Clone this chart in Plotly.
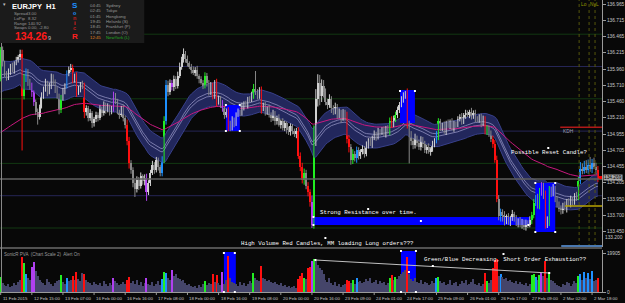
import plotly.graph_objects as go

# ---------------- data ----------------
open_first = 135.80
close = [
    136.25, 136.05, 135.90, 135.82, 135.92, 136.00, 135.95, 136.05, 136.10, 136.14,
    136.20, 135.55, 135.80, 135.92, 135.75, 135.70, 135.60, 135.45, 135.30, 135.22,
    135.38, 135.55, 135.65, 135.75, 135.60, 135.70, 135.85, 135.75, 135.65, 135.55,
    135.32, 135.50, 135.62, 135.70, 135.88, 135.95, 135.98, 135.80, 135.85, 135.60,
    135.65, 135.72, 135.68, 135.30, 135.35, 135.20, 135.28, 135.12, 135.18, 135.25,
    135.20, 135.35, 135.28, 135.40, 135.32, 135.38, 135.30, 135.35, 135.55, 135.45,
    135.30, 135.25, 135.35, 135.20, 135.10, 134.85, 134.50, 134.40, 134.20, 134.10,
    134.25, 134.15, 134.30, 134.22, 134.28, 134.05, 134.20, 134.35, 134.48, 134.40,
    134.55, 134.45, 134.35, 134.55, 135.15, 135.72, 135.60, 135.75, 135.68, 135.80,
    135.70, 135.85, 136.00, 136.10, 136.20, 136.12, 136.05, 136.00, 135.95, 135.90,
    135.95, 135.85, 135.80, 135.75, 135.70, 135.85, 135.75, 135.60, 135.70, 135.55,
    135.75, 135.45, 135.50, 135.42, 135.35, 135.25, 135.30, 135.12, 135.05, 135.18,
    135.12, 135.25, 135.30, 135.28, 135.38, 135.42, 135.40, 135.50, 135.48, 135.55,
    135.65, 135.60, 135.55, 135.62, 135.35, 135.40, 135.30, 135.35, 135.25, 135.20,
    135.28, 135.15, 135.20, 135.10, 135.15, 135.05, 135.12, 135.02, 134.98, 135.08,
    135.00, 134.95, 135.00, 134.62, 134.45, 134.25, 134.35, 134.15, 134.05, 133.90,
    133.55, 134.97, 135.50, 135.75, 135.55, 135.70, 135.60, 135.45, 135.40, 135.50,
    135.35, 135.30, 135.38, 135.25, 135.30, 135.20, 135.28, 135.22, 134.88, 134.75,
    134.55, 134.65, 134.58, 134.70, 134.62, 134.68, 134.72, 134.65, 134.78, 134.85,
    134.80, 134.90, 134.95, 134.90, 135.00, 134.98, 135.02, 134.95, 135.05, 135.00,
    135.15, 135.10, 135.20, 135.25, 135.32, 135.40, 135.48, 135.55, 135.58, 135.10,
    134.95, 134.85, 134.78, 134.90, 134.82, 134.75, 134.88, 134.80, 134.70, 134.75,
    134.68, 134.72, 134.80, 134.85, 134.92, 135.15, 135.05, 135.10, 135.00, 135.12,
    135.08, 135.15, 135.05, 135.12, 135.10, 135.18, 135.22, 135.15, 135.25, 135.28,
    135.25, 135.30, 135.22, 135.28, 135.20, 135.18, 135.22, 135.12, 135.18, 135.00,
    135.05, 134.95, 134.88, 134.80, 134.55, 133.95, 133.68, 133.75, 133.70, 133.62,
    133.68, 133.60, 133.65, 133.72, 133.66, 133.58, 133.62, 133.55, 133.60, 133.52,
    133.58, 133.55, 133.62, 133.70, 133.88, 133.95, 133.85, 134.05, 134.15, 134.02,
    133.55, 133.60, 134.10, 134.05, 134.12, 133.95, 133.88, 133.80, 133.78, 133.85,
    133.82, 133.92, 133.88, 133.95, 133.90, 134.00, 133.98, 134.22, 134.42, 134.38,
    134.45, 134.40, 134.48, 134.42, 134.50, 134.45, 134.40, 134.26,
]
wick_up = [  # pips above the body
    5, 6, 4, 3, 5, 4, 6, 3, 5, 4,   6, 6, 8, 5, 4, 6, 5, 3, 4, 5,
    3, 5, 4, 6, 3, 5, 4, 3, 5, 4,   3, 6, 5, 4, 6, 5, 6, 5, 4, 6,
    5, 4, 6, 7, 5, 4, 6, 3, 4, 5,   4, 5, 3, 6, 4, 5, 3, 4, 6, 4,
    5, 3, 4, 6, 4, 8, 6, 5, 4, 6,   5, 4, 6, 3, 5, 6, 4, 5, 6, 4,
    5, 4, 3, 6, 8, 7, 6, 5, 4, 6,   5, 7, 6, 5, 8, 4, 5, 3, 4, 5,
    4, 6, 3, 5, 4, 6, 5, 4, 6, 5,   4, 6, 5, 4, 6, 3, 5, 7, 4, 5,
    3, 4, 5, 3, 6, 4, 5, 3, 4, 6,   8, 28, 5, 6, 7, 4, 5, 3, 6, 4,
    5, 3, 4, 6, 3, 5, 4, 3, 5, 4,   3, 4, 5, 6, 5, 6, 7, 5, 6, 5,
    10, 12, 15, 13, 12, 10, 9, 6, 5, 7,   4, 5, 6, 4, 5, 3, 6, 5, 8, 6,
    5, 7, 4, 6, 5, 4, 6, 5, 6, 4,   5, 3, 6, 4, 5, 3, 4, 5, 3, 4,
    6, 8, 4, 5, 6, 5, 6, 5, 4, 8,   6, 5, 4, 6, 3, 5, 4, 3, 5, 4,
    6, 3, 5, 4, 8, 5, 4, 3, 5, 4,   6, 3, 5, 4, 3, 5, 4, 6, 3, 5,
    4, 3, 6, 4, 5, 3, 4, 5, 6, 5,   4, 3, 6, 5, 6, 7, 6, 5, 4, 6,
    3, 5, 4, 6, 3, 4, 3, 5, 4, 3,   5, 4, 6, 5, 7, 6, 8, 7, 6, 5,
    6, 8, 5, 4, 6, 3, 4, 3, 5, 4,   6, 3, 4, 5, 3, 4, 6, 7, 10, 8,
    9, 10, 8, 12, 7, 9, 6, 6,
]
wick_dn = [  # pips below the body
    3, 5, 6, 4, 3, 5, 4, 6, 3, 4,   4, 85, 6, 4, 5, 6, 7, 6, 5, 12,
    4, 3, 5, 4, 6, 3, 5, 4, 6, 5,   6, 4, 3, 5, 4, 3, 4, 6, 5, 7,
    4, 5, 3, 10, 6, 5, 4, 7, 5, 4,  5, 3, 6, 4, 5, 3, 6, 4, 5, 3,
    4, 6, 3, 5, 6, 7, 8, 6, 7, 12,  5, 6, 4, 5, 6, 13, 4, 5, 3, 6,
    4, 6, 5, 5, 4, 5, 6, 4, 5, 6,   5, 4, 3, 5, 4, 6, 5, 4, 6, 3,
    5, 4, 6, 3, 5, 4, 6, 5, 4, 6,   5, 7, 4, 6, 5, 6, 4, 12, 5, 4,
    6, 4, 3, 5, 4, 6, 3, 5, 4, 3,   5, 4, 6, 5, 8, 4, 6, 5, 4, 6,
    4, 6, 5, 3, 6, 4, 5, 6, 4, 5,   5, 4, 6, 5, 7, 6, 8, 5, 6, 7,
    5, 6, 20, 12, 15, 10, 8, 5, 6, 4,   7, 5, 4, 6, 5, 7, 4, 6, 7, 8,
    7, 6, 5, 7, 6, 5, 4, 6, 4, 5,   3, 6, 4, 5, 3, 5, 4, 3, 5, 4,
    6, 5, 4, 6, 5, 4, 3, 4, 5, 6,   45, 7, 6, 5, 6, 4, 5, 6, 4, 5,
    3, 6, 4, 5, 4, 6, 5, 5, 4, 6,   3, 5, 4, 6, 5, 4, 3, 5, 4, 6,
    3, 5, 4, 3, 6, 4, 5, 6, 4, 5,   6, 4, 5, 6, 4, 5, 6, 8, 10, 8,
    6, 5, 7, 4, 6, 5, 7, 4, 6, 5,   6, 5, 4, 6, 5, 4, 5, 6, 5, 7,
    6, 5, 7, 7, 6, 5, 6, 5, 7, 6,   5, 8, 4, 6, 5, 4, 6, 5, 4, 5,
    4, 5, 6, 5, 7, 4, 6, 5,
]
volume = [
    7500, 4500, 3500, 3000, 4000, 2500, 3000, 4500, 3500, 5000,
    6000, 18000, 15000, 9000, 7000, 6000, 13000, 15500, 10500, 8000,
    6000, 5000, 4500, 3500, 6500, 5000, 4000, 3000, 4500, 5500,
    6000, 8500, 5000, 4000, 7000, 5500, 6000, 8000, 6000, 10000,
    6500, 5500, 9500, 9000, 6000, 5000, 4500, 3500, 5000, 4000,
    3500, 4500, 3000, 5500, 4000, 3000, 4500, 3500, 7000, 5500,
    4500, 3500, 4000, 5000, 4000, 6000, 7500, 4500, 5500, 4000,
    6000, 3500, 5000, 3000, 4500, 7000, 4000, 3500, 5000, 3000,
    4000, 5500, 3500, 6500, 10000, 9500, 7000, 6000, 11000, 8000,
    9000, 7000, 6500, 5500, 6000, 4500, 3500, 4000, 3000, 2500,
    3000, 2000, 3500, 2500, 4000, 5500, 3500, 4500, 4000, 9000,
    5000, 8500, 4500, 3500, 10000, 4000, 6000, 18500, 7000, 5000,
    4500, 4000, 3000, 5000, 3500, 4500, 3000, 4000, 5500, 4500,
    9500, 7000, 6000, 5500, 13500, 7000, 6500, 5500, 6000, 5000,
    4500, 5000, 4000, 3500, 4500, 3000, 3500, 2500, 3000, 2000,
    2500, 3000, 2000, 6500, 8000, 9500, 7000, 6500, 12500, 13000,
    16000, 17000, 16000, 14000, 12000, 11000, 9000, 6000, 5000, 7000,
    4500, 3500, 5000, 3000, 4000, 2500, 3500, 4000, 6000, 5500,
    4500, 6000, 4000, 7000, 5000, 5500, 4500, 5000, 6500, 5500,
    7000, 4500, 5000, 6000, 4000, 5500, 4500, 5000, 3500, 4500,
    7000, 8500, 6000, 7500, 6500, 8000, 9000, 10000, 11000, 18000,
    9000, 6500, 5500, 7000, 5000, 4500, 6000, 4000, 5000, 4500,
    3500, 4000, 5500, 4500, 7000, 7500, 5500, 4500, 5000, 3500,
    4000, 6000, 3500, 4500, 5000, 3000, 4000, 5500, 4500, 6000,
    3500, 4000, 5000, 6500, 4000, 3500, 4500, 3000, 4000, 9500,
    5500, 4500, 6000, 12000, 16500, 17000, 8000, 9000, 7500, 6500,
    7000, 5500, 6000, 5000, 4500, 5500, 4000, 5000, 4000, 3500,
    4500, 3000, 4000, 8500, 9000, 7500, 6000, 8500, 9500, 8000,
    16000, 7000, 10000, 6000, 5500, 4500, 3500, 3000, 2500, 4000,
    3500, 5000, 4500, 3000, 4000, 5500, 4500, 8000, 9000, 6000,
    10000, 7000, 9500, 6500, 10500, 5500, 6000, 7000,
]
pva_red = [11, 37, 39, 43, 65, 66, 109, 111, 117, 134, 153, 154, 155, 158, 159,
           178, 179, 201, 209, 249, 253, 254, 255, 280, 307]
pva_green = [0, 12, 31, 84, 105, 130, 156, 161, 181, 200, 203, 225, 250, 273, 274,
             277, 282, 297]
pva_blue = [13, 34, 83, 85, 183, 224, 257, 275, 298, 300, 302, 304]
pva_magenta = [16, 17, 58, 75, 88, 114, 160, 278]

date_tick_bars = [0, 16, 32, 48, 64, 80, 96, 112, 128, 144, 160, 176, 192, 208,
                  224, 240, 256, 272, 288, 304]
date_tick_labels = ["11 Feb 2015", "12 Feb 15:00", "13 Feb 07:00", "16 Feb 00:00",
                    "16 Feb 16:00", "17 Feb 08:00", "18 Feb 00:00", "18 Feb 16:00",
                    "19 Feb 08:00", "20 Feb 00:00", "20 Feb 16:00", "23 Feb 09:00",
                    "24 Feb 01:00", "24 Feb 17:00", "25 Feb 09:00", "26 Feb 01:00",
                    "26 Feb 17:00", "27 Feb 09:00", "2 Mar 02:00", "2 Mar 18:00"]
price_ticks = [136.965, 136.715, 136.465, 136.215, 135.960, 135.710, 135.460,
               135.210, 134.955, 134.705, 134.455, 134.205, 133.950, 133.700, 133.450]
vol_ticks = [0, 19905]
levels_green = [136.5, 135.5, 134.5, 133.5]
levels_navy = [136.0, 135.0, 134.0]
last_price = 134.26
kdh_level = 135.06
daily_level = 133.84
seed_close34, seed_high34, seed_low34, seed_close89 = 135.82, 135.97, 135.67, 134.95

assert len(close) == len(wick_up) == len(wick_dn) == len(volume), \
    (len(close), len(wick_up), len(wick_dn), len(volume))

# ---------------- derived series ----------------
n = len(close)
idx = list(range(n))
opens = [open_first] + close[:-1]
highs = [max(o, c) + u / 100 for o, c, u in zip(opens, close, wick_up)]
lows = [min(o, c) - d / 100 for o, c, d in zip(opens, close, wick_dn)]

C_RED, C_GREEN, C_BLUE, C_MAG = "#ff1010", "#22ee22", "#1e90ff", "#b040f0"
C_BULL, C_BEAR, C_VOL = "#d0d0d0", "#888888", "#45456a"
group = []
for i in idx:
    if i in pva_red:
        group.append(C_RED)
    elif i in pva_green:
        group.append(C_GREEN)
    elif i in pva_blue:
        group.append(C_BLUE)
    elif i in pva_magenta:
        group.append(C_MAG)
    else:
        group.append(None)
candle_col = [g if g else (C_BULL if close[i] >= opens[i] else C_BEAR) for i, g in enumerate(group)]
vol_col = [g if g else C_VOL for g in group]


def ema(values, period, seed):
    a = 2.0 / (period + 1)
    e, out = seed, []
    for v in values:
        e = e + a * (v - e)
        out.append(e)
    return out


band_pad = 0.07
ema_c = ema(close, 34, seed_close34)
band_up = [v + band_pad for v in ema(highs, 34, seed_high34)]
band_dn = [v - band_pad for v in ema(lows, 34, seed_low34)]
ema_slow = ema(close, 89, seed_close89)

# ---------------- pixel helpers (layout only) ----------------
PW, PH = 605, 292


def fx(px):
    return px / PW


def fy(py):
    return (PH - py) / PH


def xi(px):
    return (px - 0.7) / 1.955


def pr(py):
    return 133.5 + (228 - py) / 64.6


VMAX = 42 / 39 * 19905

fig = go.Figure()

# Sonic R dragon band
fig.add_trace(go.Scatter(x=idx, y=band_up, mode="lines", line=dict(color="#38408a", width=1), hoverinfo="skip"))
fig.add_trace(go.Scatter(x=idx, y=band_dn, mode="lines", line=dict(color="#38408a", width=1),
                         fill="tonexty", fillcolor="#22275c", hoverinfo="skip"))
for off in (0.025, -0.025):
    fig.add_trace(go.Scatter(x=idx, y=[v + off for v in ema_c], mode="lines",
                             line=dict(color="#9090c0", width=0.8), hoverinfo="skip"))
fig.add_trace(go.Scatter(x=idx, y=ema_slow, mode="lines", line=dict(color="#c8187e", width=1), hoverinfo="skip"))

# blue rectangles in the price panel
for (x0, y0, x1, y1) in [(227, 105, 241, 131), (402, 90, 417, 123), (314, 217, 532, 225), (538, 183, 558, 232)]:
    fig.add_trace(go.Scatter(x=[xi(x0), xi(x1), xi(x1), xi(x0), xi(x0)],
                             y=[pr(y0), pr(y0), pr(y1), pr(y1), pr(y0)],
                             mode="lines", fill="toself", fillcolor="#0000ff",
                             line=dict(width=0, color="#0000ff"), hoverinfo="skip"))

# candle wicks (one trace per colour)
for col in sorted(set(candle_col)):
    xs, ys = [], []
    for i in idx:
        if candle_col[i] == col:
            xs += [i, i, None]
            ys += [lows[i], highs[i], None]
    fig.add_trace(go.Scatter(x=xs, y=ys, mode="lines", line=dict(color=col, width=1), hoverinfo="skip"))

# candle bodies
fig.add_trace(go.Bar(x=idx, y=[max(abs(c - o), 0.012) for o, c in zip(opens, close)],
                     base=[min(o, c) for o, c in zip(opens, close)], width=0.62,
                     marker=dict(color=candle_col, line=dict(width=0)), hoverinfo="skip"))

# volume
fig.add_trace(go.Bar(x=idx, y=volume, yaxis="y2", width=0.62,
                     marker=dict(color=vol_col, line=dict(width=0)), hoverinfo="skip"))

shapes = []
for lv in levels_green:
    shapes.append(dict(type="line", xref="paper", x0=0, x1=1, yref="y", y0=lv, y1=lv,
                       line=dict(color="#123812", width=1), layer="below"))
for lv in levels_navy:
    shapes.append(dict(type="line", xref="paper", x0=0, x1=1, yref="y", y0=lv, y1=lv,
                       line=dict(color="#252556", width=1), layer="below"))
# volume-panel blue boxes
for (x0, y0, x1, y1) in [(225, 252, 237, 292), (403, 251, 418, 292)]:
    shapes.append(dict(type="rect", xref="paper", yref="paper", x0=fx(x0), x1=fx(x1), y0=fy(y1), y1=fy(y0),
                       fillcolor="#0000ff", line=dict(width=0), layer="below"))
# session dashed lines
for xp in (582, 592, 598):
    shapes.append(dict(type="line", xref="paper", yref="paper", x0=fx(xp), x1=fx(xp), y0=fy(247), y1=1,
                       line=dict(color="#56560c", width=1, dash="dot"), layer="above"))
# KDH, daily level, steel line
shapes.append(dict(type="line", xref="paper", x0=fx(563), x1=1, yref="y", y0=kdh_level, y1=kdh_level,
                   line=dict(color="#b01818", width=1.5), layer="above"))
shapes.append(dict(type="line", xref="paper", x0=fx(568), x1=1, yref="y", y0=daily_level, y1=daily_level,
                   line=dict(color="#b8a400", width=1.5), layer="above"))
shapes.append(dict(type="line", xref="paper", yref="paper", x0=fx(564), x1=1, y0=fy(246), y1=fy(246),
                   line=dict(color="#4a78b0", width=2), layer="above"))
# bid line
shapes.append(dict(type="line", xref="paper", x0=0, x1=1, yref="y", y0=last_price, y1=last_price,
                   line=dict(color="#606060", width=1.5), layer="above"))
# panel separators and borders
shapes.append(dict(type="line", xref="paper", yref="paper", x0=0, x1=1, y0=fy(248), y1=fy(248),
                   line=dict(color="#9a9a9a", width=1), layer="above"))
shapes.append(dict(type="line", xref="paper", yref="paper", x0=fx(1.5), x1=fx(1.5), y0=0, y1=1,
                   line=dict(color="#8a8a8a", width=1), layer="above"))
# volume trend line
shapes.append(dict(type="line", xref="paper", yref="paper", x0=fx(317), x1=fx(552), y0=fy(260), y1=fy(273),
                   line=dict(color="#c0c0c0", width=1), layer="above"))
# info panel
shapes.append(dict(type="rect", xref="paper", yref="paper", x0=0, x1=fx(145), y0=fy(43), y1=1,
                   fillcolor="#1b1b1b", line=dict(width=0), layer="above"))
# small white anchor squares
for (px_, py_) in [(227, 105), (241, 105), (227, 131), (241, 131), (402, 91), (417, 91),
                   (315, 217), (315, 225), (423, 221), (531, 225), (538, 183), (558, 183),
                   (538, 232), (558, 232), (225, 253), (236, 253), (225, 292), (236, 292),
                   (403, 251), (418, 251), (403, 292), (418, 292), (411, 272),
                   (317, 260), (435, 266), (552, 273), (370, 209), (327, 238), (551, 148), (506, 254)]:
    shapes.append(dict(type="rect", xref="paper", yref="paper", x0=fx(px_ - 1), x1=fx(px_ + 1),
                       y0=fy(py_ + 1), y1=fy(py_ - 1), fillcolor="#ffffff", line=dict(width=0), layer="above"))
# current price red marker
shapes.append(dict(type="rect", xref="paper", yref="paper", x0=fx(602), x1=fx(605), y0=fy(179), y1=fy(176),
                   fillcolor="#ff0000", line=dict(width=0), layer="above"))
# date tick marks
for b in date_tick_bars:
    xp = 0.7 + 1.955 * b
    shapes.append(dict(type="line", xref="paper", yref="paper", x0=fx(xp), x1=fx(xp), y0=fy(292), y1=fy(295),
                       line=dict(color="#9a9a9a", width=1)))

ann = []
SANS = "Liberation Sans, Arial"
MONO = "Liberation Mono, Courier New, monospace"


def txt(x, y, s, size, color, family=SANS, anchor="left", bg=None, bold=False):
    d = dict(xref="paper", yref="paper", x=fx(x), y=fy(y), text=("<b>%s</b>" % s) if bold else s,
             showarrow=False, xanchor=anchor, yanchor="middle",
             font=dict(size=size, color=color, family=family), borderpad=0)
    if bg:
        d["bgcolor"] = bg
    ann.append(d)


for b, lab in zip(date_tick_bars, date_tick_labels):
    txt(0.7 + 1.955 * b + 1, 298, lab, 4.4, "#c8c8c8")
txt(607, 237, "133.200", 4.8, "#c8c8c8")
txt(606, 177, "134.269", 4.8, "#000000", bg="#a8a8a8")

# chart comments
txt(321, 213, "Strong Resistance over time.", 5.75, "#ffffff", MONO)
txt(241, 243, "High Volume Red Candles, MM loading Long orders???", 5.75, "#ffffff", MONO)
txt(513, 152, "Possible Reset Candle?", 5.75, "#ffffff", MONO)
txt(425, 259, "Green/Blue Decreasing, Short Order Exhaustion??", 5.75, "#ffffff", MONO)
txt(565, 131, "KDH", 4.8, "#a0a0b0")
txt(583, 5, "Lo", 4.8, "#9a9a00")
txt(592, 5, "Ny", 4.8, "#9a9a00")
txt(598, 5, "L", 4.8, "#9a9a00")
txt(3, 254, "SonicR PVA  (Chart Scale 2)  Alert On", 4.5, "#9a9a9a")

# info panel
txt(2, 4, "▾", 5, "#c0c0c0")
txt(11, 6.5, "EURJPY  H1", 7.5, "#ffffff", bold=True)
for k, (lab, val) in enumerate([("Spread", "3.00"), ("LoPip", "8.32"), ("Range", "140.92"), ("Swaps", "0.00, -2.80")]):
    txt(13, 13.5 + 4.8 * k, lab, 4.3, "#9a9a9a")
    txt(27, 13.5 + 4.8 * k, val, 4.3, "#9a9a9a")
txt(14, 36, "134.26", 10.5, "#ff1a1a", bold=True)
txt(47, 37.5, "9", 5.5, "#c0c0c0")
for k, (ch, col) in enumerate([("o", "#1e90ff"), ("n", "#c02020"), ("i", "#ff2020"), ("c", "#c02020")]):
    txt(75, 13 + 5 * k, ch, 5.5, col, bold=True, anchor="center")
txt(75, 6, "S", 8, "#1e90ff", bold=True, anchor="center")
txt(75, 36.5, "R", 8, "#ff2020", bold=True, anchor="center")
sessions = [("04:45", "Sydney", "#9a9a9a"), ("02:45", "Tokyo", "#9a9a9a"), ("01:45", "Hongkong", "#9a9a9a"),
            ("19:45", "Helsinki (S)", "#9a9a9a"), ("18:45", "Frankfurt (P)", "#9a9a9a"),
            ("17:45", "London (O)", "#9a9a9a"), ("12:45", "NewYork (L)", "#22aa22")]
for k, (t, name, col) in enumerate(sessions):
    txt(89, 5.5 + 5.3 * k, t, 4.3, "#e08020" if k == 6 else "#9a9a9a")
    txt(106, 5.5 + 5.3 * k, name, 4.3, col)

axis_font = dict(size=4.8, color="#c8c8c8", family=SANS)
fig.update_layout(
    width=625, height=303,
    margin=dict(l=0, r=20, t=0, b=11),
    paper_bgcolor="#080808", plot_bgcolor="#080808",
    showlegend=False, barmode="overlay", bargap=0,
    xaxis=dict(range=[xi(0), xi(605)], showgrid=False, zeroline=False, showticklabels=False,
               anchor="y2", showline=True, linecolor="#9a9a9a", linewidth=1, fixedrange=True),
    yaxis=dict(domain=[fy(247), 1], range=[pr(247), pr(0)], side="right", showgrid=False, zeroline=False,
               tickvals=price_ticks, ticktext=["%.3f" % v for v in price_ticks], tickfont=axis_font,
               ticks="outside", ticklen=3, tickcolor="#9a9a9a", showline=True, linecolor="#9a9a9a",
               linewidth=1),
    yaxis2=dict(domain=[0, fy(250)], range=[0, VMAX], side="right", showgrid=False, zeroline=False,
                tickvals=vol_ticks, ticktext=[str(v) for v in vol_ticks], tickfont=axis_font,
                ticks="outside", ticklen=3, tickcolor="#9a9a9a", showline=True, linecolor="#9a9a9a",
                linewidth=1, anchor="x"),
    shapes=shapes, annotations=ann,
)
fig.write_html("out.html")
